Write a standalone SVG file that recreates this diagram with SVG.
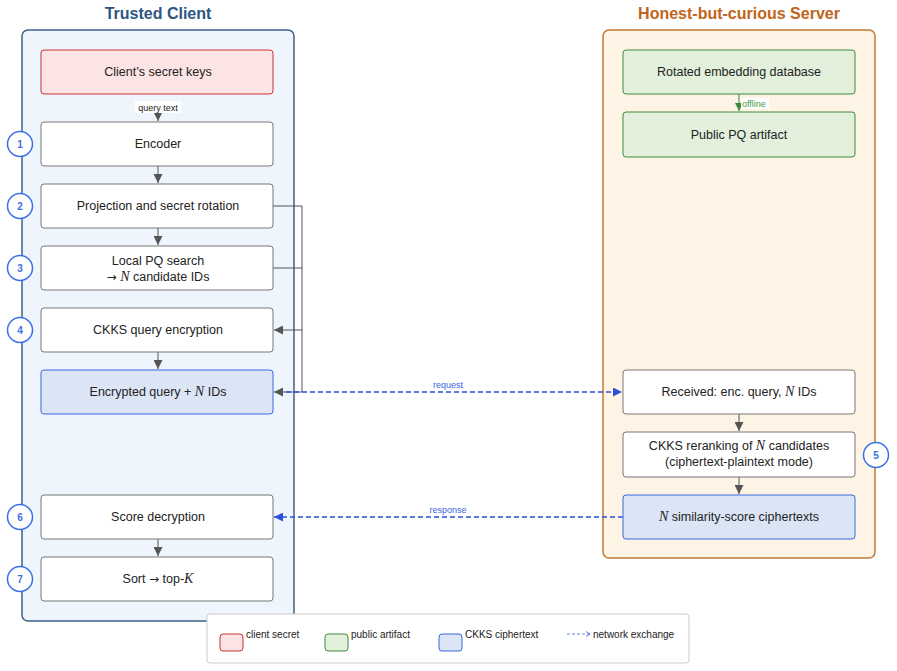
<svg xmlns="http://www.w3.org/2000/svg" width="897" height="671" viewBox="0 0 897 671">
<style>
text{font-family:"Liberation Sans","DejaVu Sans",sans-serif;fill:#222}
.t{font-size:12.5px;text-anchor:middle}
.m{font-family:"Liberation Serif",serif;font-style:italic;font-size:14px}
.ar{font-family:"DejaVu Sans",sans-serif;font-size:12px}
.n{fill:#fff;stroke:#777;stroke-width:1}
.r{fill:#fce4e4;stroke:#c83232;stroke-width:1}
.g{fill:#e2f0dc;stroke:#3c8a3c;stroke-width:1}
.b{fill:#dbe5f6;stroke:#3a66dd;stroke-width:1}
.s{fill:#fff;stroke:#3a6ee8;stroke-width:1.5}
.st{font-size:10px;font-weight:bold;text-anchor:middle;fill:#3a6ee8}
.e{stroke:#555;stroke-width:1;fill:none}
.d{stroke:#2a50dd;stroke-width:1.5;fill:none;stroke-dasharray:5,3}
.lb{font-size:9px;text-anchor:middle;fill:#3a66dd}
.lg{font-size:10px}
</style>
<defs>
<marker id="a" viewBox="0 0 10 10" refX="10" refY="5" markerWidth="9" markerHeight="9" markerUnits="userSpaceOnUse" orient="auto"><path d="M0,0L10,5L0,10z" fill="#555"/></marker>
<marker id="ab" viewBox="0 0 10 10" refX="10" refY="5" markerWidth="9" markerHeight="9" markerUnits="userSpaceOnUse" orient="auto"><path d="M0,0L10,5L0,10z" fill="#2a50dd"/></marker>
<marker id="ag" viewBox="0 0 10 10" refX="10" refY="5" markerWidth="8" markerHeight="8" markerUnits="userSpaceOnUse" orient="auto"><path d="M0,0L10,5L0,10z" fill="#3c8a3c"/></marker>
</defs>
<rect width="897" height="671" fill="#fff"/>
<g id="client">
<rect x="22" y="30" width="272" height="591" rx="6" fill="#eef5fc" stroke="#3f6088" stroke-width="1.5"/>
<text x="158" y="19" style="font-size:16px;font-weight:bold;text-anchor:middle;fill:#2d5580">Trusted Client</text>
</g>
<g id="server">
<rect x="603" y="30" width="272" height="528" rx="6" fill="#fdf4e6" stroke="#c07a35" stroke-width="1.5"/>
<text x="739" y="19" style="font-size:16px;font-weight:bold;text-anchor:middle;fill:#c0651a">Honest-but-curious Server</text>
</g>
<g id="connectors">
<line class="e" x1="158" y1="108" x2="158" y2="121" marker-end="url(#a)"/>
<line class="e" x1="158" y1="166" x2="158" y2="183" marker-end="url(#a)"/>
<line class="e" x1="158" y1="228" x2="158" y2="245" marker-end="url(#a)"/>
<line class="e" x1="158" y1="352" x2="158" y2="369" marker-end="url(#a)"/>
<line class="e" x1="158" y1="539" x2="158" y2="556" marker-end="url(#a)"/>
<polyline class="e" points="273,206 302,206 302,392"/>
<polyline class="e" points="273,268 302,268"/>
<line class="e" x1="302" y1="330" x2="274" y2="330" marker-end="url(#a)"/>
<line class="e" x1="302" y1="392" x2="274" y2="392" marker-end="url(#a)"/>
<line class="d" x1="286" y1="392" x2="622" y2="392" marker-end="url(#ab)"/>
<line class="d" x1="623" y1="517" x2="274" y2="517" marker-end="url(#ab)"/>
<line x1="739" y1="94" x2="739" y2="111" stroke="#3c8a3c" stroke-width="1" marker-end="url(#ag)"/>
<line class="e" x1="739" y1="414" x2="739" y2="431" marker-end="url(#a)"/>
<line class="e" x1="739" y1="477" x2="739" y2="494" marker-end="url(#a)"/>
<rect x="135" y="101" width="46" height="12" fill="#fff"/>
<text x="158" y="111" style="font-size:9px;text-anchor:middle">query text</text>
<rect x="741" y="98" width="28" height="11" fill="#fff"/>
<text x="742" y="107" style="font-size:9px;fill:#4a9a4a">offline</text>
<text x="448" y="388" class="lb">request</text>
<text x="448" y="513" class="lb">response</text>
</g>
<g id="n-keys"><rect class="r" x="41" y="50" width="232" height="44" rx="3"/><text class="t" x="158" y="76">Client’s secret keys</text></g>
<g id="n-encoder"><rect class="n" x="41" y="122" width="232" height="44" rx="3"/><text class="t" x="158" y="148">Encoder</text></g>
<g id="n-proj"><rect class="n" x="41" y="184" width="232" height="44" rx="3"/><text class="t" x="158" y="210">Projection and secret rotation</text></g>
<g id="n-pq"><rect class="n" x="41" y="246" width="232" height="44" rx="3"/><text class="t" x="158" y="265">Local PQ search</text><text class="t" x="158" y="281"><tspan class="ar">→</tspan> <tspan class="m">N</tspan> candidate IDs</text></g>
<g id="n-enc"><rect class="n" x="41" y="308" width="232" height="44" rx="3"/><text class="t" x="158" y="334">CKKS query encryption</text></g>
<g id="n-encq"><rect class="b" x="41" y="370" width="232" height="44" rx="3"/><text class="t" x="158" y="396">Encrypted query + <tspan class="m">N</tspan> IDs</text></g>
<g id="n-dec"><rect class="n" x="41" y="495" width="232" height="44" rx="3"/><text class="t" x="158" y="521">Score decryption</text></g>
<g id="n-sort"><rect class="n" x="41" y="557" width="232" height="44" rx="3"/><text class="t" x="158" y="583">Sort <tspan class="ar">→</tspan> top-<tspan class="m">K</tspan></text></g>
<g id="n-db"><rect class="g" x="623" y="50" width="232" height="44" rx="3"/><text class="t" x="739" y="76">Rotated embedding database</text></g>
<g id="n-art"><rect class="g" x="623" y="112" width="232" height="45" rx="3"/><text class="t" x="739" y="139">Public PQ artifact</text></g>
<g id="n-recv"><rect class="n" x="623" y="370" width="232" height="44" rx="3"/><text class="t" x="739" y="396">Received: enc. query, <tspan class="m">N</tspan> IDs</text></g>
<g id="n-rerank"><rect class="n" x="623" y="432" width="232" height="45" rx="3"/><text class="t" x="739" y="450">CKKS reranking of <tspan class="m">N</tspan> candidates</text><text class="t" x="739" y="466">(ciphertext-plaintext mode)</text></g>
<g id="n-scores"><rect class="b" x="623" y="495" width="232" height="44" rx="3"/><text class="t" x="739" y="521"><tspan class="m">N</tspan> similarity-score ciphertexts</text></g>
<g id="steps">
<circle class="s" cx="20" cy="144" r="12.5"/><text class="st" x="20" y="148">1</text>
<circle class="s" cx="20" cy="206" r="12.5"/><text class="st" x="20" y="210">2</text>
<circle class="s" cx="20" cy="268" r="12.5"/><text class="st" x="20" y="272">3</text>
<circle class="s" cx="20" cy="330" r="12.5"/><text class="st" x="20" y="334">4</text>
<circle class="s" cx="876" cy="455" r="12.5"/><text class="st" x="876" y="459">5</text>
<circle class="s" cx="20" cy="517" r="12.5"/><text class="st" x="20" y="521">6</text>
<circle class="s" cx="20" cy="579" r="12.5"/><text class="st" x="20" y="583">7</text>
</g>
<g id="legend">
<rect x="207" y="614" width="482" height="49" rx="3" fill="#fff" stroke="#ccc"/>
<rect class="r" x="220" y="634" width="23" height="17" rx="3"/><text class="lg" x="246" y="638">client secret</text>
<rect class="g" x="325" y="634" width="23" height="17" rx="3"/><text class="lg" x="351" y="638">public artifact</text>
<rect class="b" x="439" y="634" width="23" height="17" rx="3"/><text class="lg" x="465" y="638">CKKS ciphertext</text>
<line x1="567" y1="634" x2="590" y2="634" stroke="#3a66dd" stroke-width="0.8" stroke-dasharray="3,2"/>
<path d="M586,631.5L590,634L586,636.5" fill="none" stroke="#3a66dd" stroke-width="0.8"/>
<text class="lg" x="593" y="638">network exchange</text>
</g>
</svg>
